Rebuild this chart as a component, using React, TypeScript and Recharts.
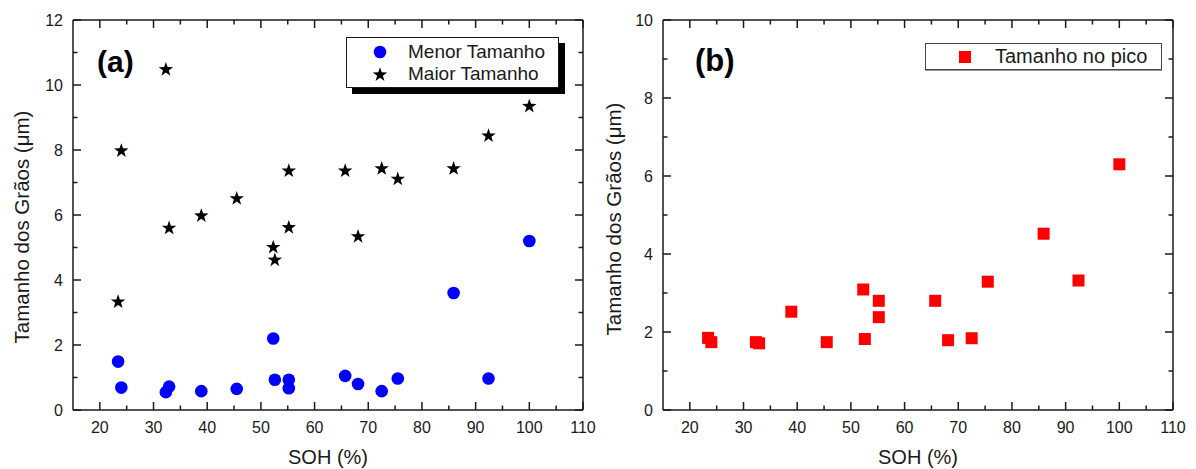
import React from "react"
import { ScatterChart, Scatter, XAxis, YAxis, Legend, Label } from "recharts"

// SOH (%) of each sample
const soh = [23.4, 24.0, 32.3, 32.9, 38.9, 45.5, 52.3, 52.6, 55.2, 55.2, 65.7, 68.1, 72.5, 75.5, 85.9, 92.4, 100]
const menorTamanho = [1.49, 0.69, 0.55, 0.72, 0.58, 0.65, 2.2, 0.93, 0.93, 0.67, 1.05, 0.8, 0.58, 0.97, 3.6, 0.97, 5.2]
const maiorTamanho = [3.35, 8.0, 10.5, 5.62, 6.0, 6.53, 5.03, 4.64, 7.38, 5.64, 7.38, 5.36, 7.45, 7.13, 7.45, 8.46, 9.37]
const tamanhoPico = [1.85, 1.74, 1.74, 1.71, 2.52, 1.74, 3.09, 1.82, 2.8, 2.38, 2.8, 1.79, 1.84, 3.29, 4.52, 3.32, 6.3]

const seriesOrder = ["Menor Tamanho", "Maior Tamanho", "Tamanho no pico"]

const xTicks = [20, 25, 30, 35, 40, 45, 50, 55, 60, 65, 70, 75, 80, 85, 90, 95, 100, 105, 110]
const yTicksA = [0, 1, 2, 3, 4, 5, 6, 7, 8, 9, 10, 11, 12]
const yTicksB = [0, 1, 2, 3, 4, 5, 6, 7, 8, 9, 10]

const toRows = (ys: number[]) => soh.map((x, i) => ({ soh: x, size: ys[i] }))
const dataMenor = toRows(menorTamanho)
const dataMaior = toRows(maiorTamanho)
const dataPico = toRows(tamanhoPico)

const INK = "#1a1a1a"
const FONT = "'Liberation Sans', Arial, sans-serif"

const starPath = (cx: number, cy: number, R: number, r: number) => {
  let d = ""
  for (let i = 0; i < 10; i++) {
    const rad = i % 2 === 0 ? R : r
    const a = -Math.PI / 2 + (i * Math.PI) / 5
    d += (i === 0 ? "M" : "L") + (cx + rad * Math.cos(a)).toFixed(2) + "," + (cy + rad * Math.sin(a)).toFixed(2)
  }
  return d + "Z"
}

const Circle = (p: any) => <circle cx={p.cx} cy={p.cy} r={6.3} fill="#0000ff" />
const Star = (p: any) => <path d={starPath(p.cx, p.cy + 0.8, 7.6, 3)} fill="#000" />
const Square = (p: any) => <rect x={p.cx - 6} y={p.cy - 6} width={12} height={12} fill="#ff0000" />

const isMajor = (v: number, step: number) => v % step === 0

const BottomTick = (p: any) => {
  const v = p.payload.value
  const major = isMajor(v, 10)
  return (
    <g>
      <line x1={p.x} x2={p.x} y1={p.y} y2={p.y - (major ? 8 : 4.5)} stroke={INK} strokeWidth={1.5} />
      {major && (
        <text x={p.x} y={p.y + 23} textAnchor="middle" fontSize={16} fill={INK}>
          {v}
        </text>
      )}
    </g>
  )
}

const TopTick = (p: any) => {
  const major = isMajor(p.payload.value, 10)
  return <line x1={p.x} x2={p.x} y1={p.y} y2={p.y + (major ? 8 : 4.5)} stroke={INK} strokeWidth={1.5} />
}

const LeftTick = (p: any) => {
  const v = p.payload.value
  const major = isMajor(v, 2)
  return (
    <g>
      <line x1={p.x} x2={p.x + (major ? 8 : 4.5)} y1={p.y} y2={p.y} stroke={INK} strokeWidth={1.5} />
      {major && (
        <text x={p.x - 10} y={p.y + 5.5} textAnchor="end" fontSize={16} fill={INK}>
          {v}
        </text>
      )}
    </g>
  )
}

const RightTick = (p: any) => {
  const major = isMajor(p.payload.value, 2)
  return <line x1={p.x} x2={p.x - (major ? 8 : 4.5)} y1={p.y} y2={p.y} stroke={INK} strokeWidth={1.5} />
}

const symbolFor = (type: string, cx: number, cy: number) => {
  if (type === "star") return <Star cx={cx} cy={cy} />
  if (type === "square") return <Square cx={cx} cy={cy} />
  return <Circle cx={cx} cy={cy} />
}

const ordered = (payload: any[]) =>
  [...(payload || [])].sort((a, b) => seriesOrder.indexOf(a.value) - seriesOrder.indexOf(b.value))

const LegendBoxA = ({ payload }: any) => (
  <div
    style={{
      background: "#fff",
      border: `1px solid ${INK}`,
      boxShadow: "6px 6px 0 #000",
      width: 213,
      height: 51,
      boxSizing: "border-box",
      paddingTop: 3,
      fontFamily: FONT,
      fontSize: 19,
      color: INK,
    }}
  >
    {ordered(payload).map((e: any) => (
      <div key={e.value} style={{ display: "flex", alignItems: "center", height: 22 }}>
        <svg width={61} height={22}>
          {symbolFor(e.type, 33, 11)}
        </svg>
        <span>{e.value}</span>
      </div>
    ))}
  </div>
)

const LegendBoxB = ({ payload }: any) => (
  <div
    style={{
      background: "#fff",
      border: "1px solid #444",
      boxShadow: "0 1px 0 #999",
      width: 237,
      height: 27,
      boxSizing: "border-box",
      fontFamily: FONT,
      fontSize: 20,
      color: INK,
    }}
  >
    {ordered(payload).map((e: any) => (
      <div key={e.value} style={{ display: "flex", alignItems: "center", height: 25 }}>
        <svg width={69} height={25}>
          {symbolFor(e.type, 39, 13)}
        </svg>
        <span>{e.value}</span>
      </div>
    ))}
  </div>
)

const yTitle = "Tamanho dos Grãos (μm)"

const axisLine = { stroke: INK, strokeWidth: 1.5 }

export default function App() {
  return (
    <div style={{ position: "absolute", left: 0, top: 0, width: 1196, height: 469, background: "#fff", fontFamily: FONT }}>
      <div style={{ position: "absolute", left: 0, top: 0 }}>
        <ScatterChart width={596} height={469} margin={{ top: 19, right: 12, bottom: 58, left: 72 }} style={{ fontFamily: FONT }}>
          <XAxis xAxisId="b" type="number" dataKey="soh" domain={[15, 110]} ticks={xTicks} interval={0} height={1}
            tickSize={0} tickMargin={0} tickLine={false} axisLine={axisLine} tick={<BottomTick />} allowDataOverflow>
            <Label value="SOH (%)" position="bottom" offset={39} fontSize={20} fill={INK} />
          </XAxis>
          <XAxis xAxisId="t" orientation="top" type="number" dataKey="soh" domain={[15, 110]} ticks={xTicks} interval={0} height={1}
            tickSize={0} tickMargin={0} tickLine={false} axisLine={axisLine} tick={<TopTick />} allowDataOverflow />
          <YAxis yAxisId="l" type="number" dataKey="size" domain={[0, 12]} ticks={yTicksA} interval={0} width={1}
            tickSize={0} tickMargin={0} tickLine={false} axisLine={axisLine} tick={<LeftTick />} allowDataOverflow>
            <Label value={yTitle} position="left" offset={50} dy={12} angle={-90} fontSize={20.5} fill={INK} style={{ textAnchor: "middle" }} />
          </YAxis>
          <YAxis yAxisId="r" orientation="right" type="number" dataKey="size" domain={[0, 12]} ticks={yTicksA} interval={0} width={1}
            tickSize={0} tickMargin={0} tickLine={false} axisLine={axisLine} tick={<RightTick />} allowDataOverflow />
          <Scatter name="Menor Tamanho" data={dataMenor} xAxisId="b" yAxisId="l" fill="#0000ff" legendType="circle"
            shape={(p: any) => <Circle cx={p.cx} cy={p.cy} />} isAnimationActive={false} />
          <Scatter name="Maior Tamanho" data={dataMaior} xAxisId="b" yAxisId="l" fill="#000" legendType="star"
            shape={(p: any) => <Star cx={p.cx} cy={p.cy} />} isAnimationActive={false} />
          <Legend layout="horizontal" align="center" verticalAlign="middle" content={<LegendBoxA />}
            wrapperStyle={{ left: 346, top: 37, width: "auto", height: "auto" }} />
          <text x={97} y={72} fontSize={30} fontWeight="bold" fill="#000" fontFamily={FONT}>(a)</text>
        </ScatterChart>
      </div>
      <div style={{ position: "absolute", left: 596, top: 0 }}>
        <ScatterChart width={600} height={469} margin={{ top: 19, right: 22, bottom: 58, left: 66 }} style={{ fontFamily: FONT }}>
          <XAxis xAxisId="b" type="number" dataKey="soh" domain={[15, 110]} ticks={xTicks} interval={0} height={1}
            tickSize={0} tickMargin={0} tickLine={false} axisLine={axisLine} tick={<BottomTick />} allowDataOverflow>
            <Label value="SOH (%)" position="bottom" offset={39} fontSize={20} fill={INK} />
          </XAxis>
          <XAxis xAxisId="t" orientation="top" type="number" dataKey="soh" domain={[15, 110]} ticks={xTicks} interval={0} height={1}
            tickSize={0} tickMargin={0} tickLine={false} axisLine={axisLine} tick={<TopTick />} allowDataOverflow />
          <YAxis yAxisId="l" type="number" dataKey="size" domain={[0, 10]} ticks={yTicksB} interval={0} width={1}
            tickSize={0} tickMargin={0} tickLine={false} axisLine={axisLine} tick={<LeftTick />} allowDataOverflow>
            <Label value={yTitle} position="left" offset={48} dy={4} angle={-90} fontSize={20.5} fill={INK} style={{ textAnchor: "middle" }} />
          </YAxis>
          <YAxis yAxisId="r" orientation="right" type="number" dataKey="size" domain={[0, 10]} ticks={yTicksB} interval={0} width={1}
            tickSize={0} tickMargin={0} tickLine={false} axisLine={axisLine} tick={<RightTick />} allowDataOverflow />
          <Scatter name="Tamanho no pico" data={dataPico} xAxisId="b" yAxisId="l" fill="#ff0000" legendType="square"
            shape={(p: any) => <Square cx={p.cx} cy={p.cy} />} isAnimationActive={false} />
          <Legend layout="horizontal" align="center" verticalAlign="middle" content={<LegendBoxB />}
            wrapperStyle={{ left: 329, top: 43, width: "auto", height: "auto" }} />
          <text x={99} y={71} fontSize={31} fontWeight="bold" fill="#000" fontFamily={FONT}>(b)</text>
        </ScatterChart>
      </div>
    </div>
  )
}
